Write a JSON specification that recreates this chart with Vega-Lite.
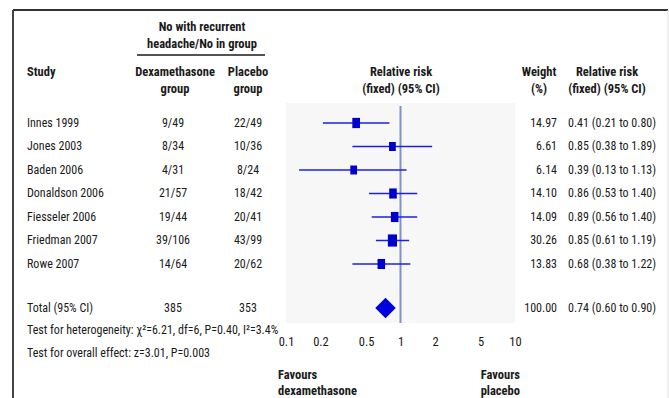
{
  "$schema": "https://vega.github.io/schema/vega-lite/v6.json",
  "width": 656,
  "height": 388,
  "autosize": {"type": "none"},
  "padding": {"left": 13, "top": 10, "right": 0, "bottom": 0},
  "background": "white",
  "config": {
    "view": {"stroke": null},
    "text": {"font": "Liberation Sans Narrow, Roboto Condensed, Liberation Sans", "fontSize": 12, "color": "#1a1a1a"}
  },
  "datasets": {
    "studies": [
      {"study": "Innes 1999", "dex": "9/49", "placebo": "22/49", "weight": 14.97, "rr": 0.41, "lo": 0.21, "hi": 0.80, "rr_ci": "0.41 (0.21 to 0.80)", "row": 1},
      {"study": "Jones 2003", "dex": "8/34", "placebo": "10/36", "weight": 6.61, "rr": 0.85, "lo": 0.38, "hi": 1.89, "rr_ci": "0.85 (0.38 to 1.89)", "row": 2},
      {"study": "Baden 2006", "dex": "4/31", "placebo": "8/24", "weight": 6.14, "rr": 0.39, "lo": 0.13, "hi": 1.13, "rr_ci": "0.39 (0.13 to 1.13)", "row": 3},
      {"study": "Donaldson 2006", "dex": "21/57", "placebo": "18/42", "weight": 14.10, "rr": 0.86, "lo": 0.53, "hi": 1.40, "rr_ci": "0.86 (0.53 to 1.40)", "row": 4},
      {"study": "Fiesseler 2006", "dex": "19/44", "placebo": "20/41", "weight": 14.09, "rr": 0.89, "lo": 0.56, "hi": 1.40, "rr_ci": "0.89 (0.56 to 1.40)", "row": 5},
      {"study": "Friedman 2007", "dex": "39/106", "placebo": "43/99", "weight": 30.26, "rr": 0.85, "lo": 0.61, "hi": 1.19, "rr_ci": "0.85 (0.61 to 1.19)", "row": 6},
      {"study": "Rowe 2007", "dex": "14/64", "placebo": "20/62", "weight": 13.83, "rr": 0.68, "lo": 0.38, "hi": 1.22, "rr_ci": "0.68 (0.38 to 1.22)", "row": 7}
    ],
    "total": [
      {"study": "Total (95% CI)", "dex": "385", "placebo": "353", "weight": 100.00, "rr": 0.74, "lo": 0.60, "hi": 0.90, "rr_ci": "0.74 (0.60 to 0.90)"}
    ]
  },
  "layer": [
    {
      "layer": [
        {
          "data": {"values": [{}]},
          "mark": {"type": "rect", "fill": "#f7f7f7"},
          "encoding": {
            "x": {"datum": 0.1, "type": "quantitative", "scale": {"type": "log", "domain": [0.00041276, 221.31], "nice": false, "zero": false}, "axis": {"values": [0.1, 0.2, 0.5, 1, 2, 5, 10], "format": "~g", "domain": false, "ticks": false, "tickSize": 0, "grid": false, "labelPadding": 0, "labelBaseline": "middle", "labelFont": "Liberation Sans Narrow, Roboto Condensed, Liberation Sans", "labelFontSize": 12.5, "labelColor": "#1a1a1a", "labelFlush": false, "labelOverlap": false, "offset": -57, "title": null}},
            "x2": {"datum": 10},
            "y": {"datum": 0.1489, "type": "quantitative", "scale": {"type": "linear", "domain": [-3.80851, 12.70213], "nice": false, "zero": false, "reverse": true}, "axis": null},
            "y2": {"datum": 9.5106}
          }
        },
        {
          "data": {"values": [{}]},
          "mark": {"type": "rule", "color": "#8391c4", "strokeWidth": 2},
          "encoding": {
            "x": {"datum": 1, "type": "quantitative"},
            "y": {"datum": 0.2766, "type": "quantitative"},
            "y2": {"datum": 9.5106}
          }
        },
        {
          "data": {"name": "studies"},
          "mark": {"type": "rule", "color": "#1f1fe0", "strokeWidth": 1.5},
          "encoding": {
            "x": {"field": "lo", "type": "quantitative"},
            "x2": {"field": "hi"},
            "y": {"field": "row", "type": "quantitative"}
          }
        },
        {
          "data": {"name": "studies"},
          "mark": {"type": "point", "filled": true, "opacity": 1, "color": "#0000cc", "strokeWidth": 0, "shape": "M-0.75,-1L0.75,-1L0.75,1L-0.75,1Z"},
          "encoding": {
            "x": {"field": "rr", "type": "quantitative"},
            "y": {"field": "row", "type": "quantitative"},
            "size": {"field": "weight", "type": "quantitative", "scale": {"domain": [6, 31], "range": [80, 150]}, "legend": null}
          }
        },
        {
          "data": {"name": "total"},
          "mark": {"type": "point", "filled": true, "opacity": 1, "color": "#0000dd", "strokeWidth": 0, "shape": "diamond", "size": 420},
          "encoding": {
            "x": {"field": "rr", "type": "quantitative"},
            "y": {"datum": 8.872, "type": "quantitative"}
          }
        }
      ]
    },
    {
      "layer": [
        {
          "data": {"values": [{}]},
          "mark": {"type": "rule", "color": "#333333", "strokeWidth": 2},
          "encoding": {
            "x": {"datum": 0, "type": "quantitative", "scale": {"type": "linear", "domain": [0, 656], "nice": false, "zero": false}, "axis": null},
            "x2": {"datum": 655},
            "y": {"datum": -3.80851, "type": "quantitative"}
          }
        },
        {
          "data": {"values": [{}]},
          "mark": {"type": "rule", "color": "#444444", "strokeWidth": 2},
          "encoding": {
            "x": {"datum": 0, "type": "quantitative"},
            "y": {"datum": -3.80851, "type": "quantitative"},
            "y2": {"datum": 12.70213}
          }
        },
        {
          "data": {"values": [{}]},
          "mark": {"type": "rule", "color": "#e2e2e2", "strokeWidth": 1},
          "encoding": {
            "x": {"datum": 655, "type": "quantitative"},
            "y": {"datum": -3.80851, "type": "quantitative"},
            "y2": {"datum": 12.70213}
          }
        },
        {
          "data": {"values": [{}]},
          "mark": {"type": "rule", "color": "#1a1a1a", "strokeWidth": 1.5},
          "encoding": {
            "x": {"datum": 124, "type": "quantitative"},
            "x2": {"datum": 252},
            "y": {"datum": -1.8936, "type": "quantitative"}
          }
        },
        {
          "data": {"values": [{}]},
          "mark": {"type": "text", "align": "center", "baseline": "top", "fontWeight": "bold", "fontSize": 12.5, "lineHeight": 17.5},
          "encoding": {
            "text": {"value": ["No with recurrent", "headache/No in group"]},
            "x": {"datum": 189, "type": "quantitative"},
            "y": {"datum": -3.35, "type": "quantitative"}
          }
        },
        {
          "data": {"values": [{}]},
          "mark": {"type": "text", "align": "left", "baseline": "top", "fontWeight": "bold", "fontSize": 12.5, "lineHeight": 17.5},
          "encoding": {
            "text": {"value": ["Study"]},
            "x": {"datum": 14, "type": "quantitative"},
            "y": {"datum": -1.4298, "type": "quantitative"}
          }
        },
        {
          "data": {"values": [{}]},
          "mark": {"type": "text", "align": "center", "baseline": "top", "fontWeight": "bold", "fontSize": 12.5, "lineHeight": 17.5},
          "encoding": {
            "text": {"value": ["Dexamethasone", "group"]},
            "x": {"datum": 162, "type": "quantitative"},
            "y": {"datum": -1.4298, "type": "quantitative"}
          }
        },
        {
          "data": {"values": [{}]},
          "mark": {"type": "text", "align": "center", "baseline": "top", "fontWeight": "bold", "fontSize": 12.5, "lineHeight": 17.5},
          "encoding": {
            "text": {"value": ["Placebo", "group"]},
            "x": {"datum": 235, "type": "quantitative"},
            "y": {"datum": -1.4298, "type": "quantitative"}
          }
        },
        {
          "data": {"values": [{}]},
          "mark": {"type": "text", "align": "center", "baseline": "top", "fontWeight": "bold", "fontSize": 12.5, "lineHeight": 17.5},
          "encoding": {
            "text": {"value": ["Relative risk", "(fixed) (95% CI)"]},
            "x": {"datum": 388, "type": "quantitative"},
            "y": {"datum": -1.4298, "type": "quantitative"}
          }
        },
        {
          "data": {"values": [{}]},
          "mark": {"type": "text", "align": "center", "baseline": "top", "fontWeight": "bold", "fontSize": 12.5, "lineHeight": 17.5},
          "encoding": {
            "text": {"value": ["Weight", "(%)"]},
            "x": {"datum": 526, "type": "quantitative"},
            "y": {"datum": -1.4298, "type": "quantitative"}
          }
        },
        {
          "data": {"values": [{}]},
          "mark": {"type": "text", "align": "center", "baseline": "top", "fontWeight": "bold", "fontSize": 12.5, "lineHeight": 17.5},
          "encoding": {
            "text": {"value": ["Relative risk", "(fixed) (95% CI)"]},
            "x": {"datum": 594, "type": "quantitative"},
            "y": {"datum": -1.4298, "type": "quantitative"}
          }
        },
        {
          "data": {"name": "studies"},
          "mark": {"type": "text", "align": "left", "baseline": "middle"},
          "encoding": {
            "text": {"field": "study"},
            "x": {"datum": 14, "type": "quantitative"},
            "y": {"field": "row", "type": "quantitative"}
          }
        },
        {
          "data": {"name": "studies"},
          "mark": {"type": "text", "align": "center", "baseline": "middle"},
          "encoding": {
            "text": {"field": "dex"},
            "x": {"datum": 160, "type": "quantitative"},
            "y": {"field": "row", "type": "quantitative"}
          }
        },
        {
          "data": {"name": "studies"},
          "mark": {"type": "text", "align": "center", "baseline": "middle"},
          "encoding": {
            "text": {"field": "placebo"},
            "x": {"datum": 235, "type": "quantitative"},
            "y": {"field": "row", "type": "quantitative"}
          }
        },
        {
          "data": {"name": "studies"},
          "mark": {"type": "text", "align": "right", "baseline": "middle"},
          "encoding": {
            "text": {"field": "weight", "type": "quantitative", "format": ".2f"},
            "x": {"datum": 544, "type": "quantitative"},
            "y": {"field": "row", "type": "quantitative"}
          }
        },
        {
          "data": {"name": "studies"},
          "mark": {"type": "text", "align": "left", "baseline": "middle"},
          "encoding": {
            "text": {"field": "rr_ci"},
            "x": {"datum": 555, "type": "quantitative"},
            "y": {"field": "row", "type": "quantitative"}
          }
        },
        {
          "data": {"name": "total"},
          "mark": {"type": "text", "align": "left", "baseline": "middle"},
          "encoding": {
            "text": {"field": "study"},
            "x": {"datum": 14, "type": "quantitative"},
            "y": {"datum": 8.872, "type": "quantitative"}
          }
        },
        {
          "data": {"name": "total"},
          "mark": {"type": "text", "align": "center", "baseline": "middle"},
          "encoding": {
            "text": {"field": "dex"},
            "x": {"datum": 160, "type": "quantitative"},
            "y": {"datum": 8.872, "type": "quantitative"}
          }
        },
        {
          "data": {"name": "total"},
          "mark": {"type": "text", "align": "center", "baseline": "middle"},
          "encoding": {
            "text": {"field": "placebo"},
            "x": {"datum": 235, "type": "quantitative"},
            "y": {"datum": 8.872, "type": "quantitative"}
          }
        },
        {
          "data": {"name": "total"},
          "mark": {"type": "text", "align": "right", "baseline": "middle"},
          "encoding": {
            "text": {"field": "weight", "type": "quantitative", "format": ".2f"},
            "x": {"datum": 544, "type": "quantitative"},
            "y": {"datum": 8.872, "type": "quantitative"}
          }
        },
        {
          "data": {"name": "total"},
          "mark": {"type": "text", "align": "left", "baseline": "middle"},
          "encoding": {
            "text": {"field": "rr_ci"},
            "x": {"datum": 555, "type": "quantitative"},
            "y": {"datum": 8.872, "type": "quantitative"}
          }
        },
        {
          "data": {"values": [{}]},
          "mark": {"type": "text", "align": "left", "baseline": "middle"},
          "encoding": {
            "text": {"value": "Test for heterogeneity: χ²=6.21, df=6, P=0.40, I²=3.4%"},
            "x": {"datum": 14, "type": "quantitative"},
            "y": {"datum": 9.8085, "type": "quantitative"}
          }
        },
        {
          "data": {"values": [{}]},
          "mark": {"type": "text", "align": "left", "baseline": "middle"},
          "encoding": {
            "text": {"value": "Test for overall effect: z=3.01, P=0.003"},
            "x": {"datum": 14, "type": "quantitative"},
            "y": {"datum": 10.787, "type": "quantitative"}
          }
        },
        {
          "data": {"values": [{}]},
          "mark": {"type": "text", "align": "left", "baseline": "top", "fontWeight": "bold", "fontSize": 12.5, "lineHeight": 16},
          "encoding": {
            "text": {"value": ["Favours", "dexamethasone"]},
            "x": {"datum": 265, "type": "quantitative"},
            "y": {"datum": 11.485, "type": "quantitative"}
          }
        },
        {
          "data": {"values": [{}]},
          "mark": {"type": "text", "align": "right", "baseline": "top", "fontWeight": "bold", "fontSize": 12.5, "lineHeight": 16},
          "encoding": {
            "text": {"value": ["Favours", "placebo"]},
            "x": {"datum": 507, "type": "quantitative"},
            "y": {"datum": 11.485, "type": "quantitative"}
          }
        }
      ]
    }
  ],
  "resolve": {"scale": {"x": "independent"}}
}
